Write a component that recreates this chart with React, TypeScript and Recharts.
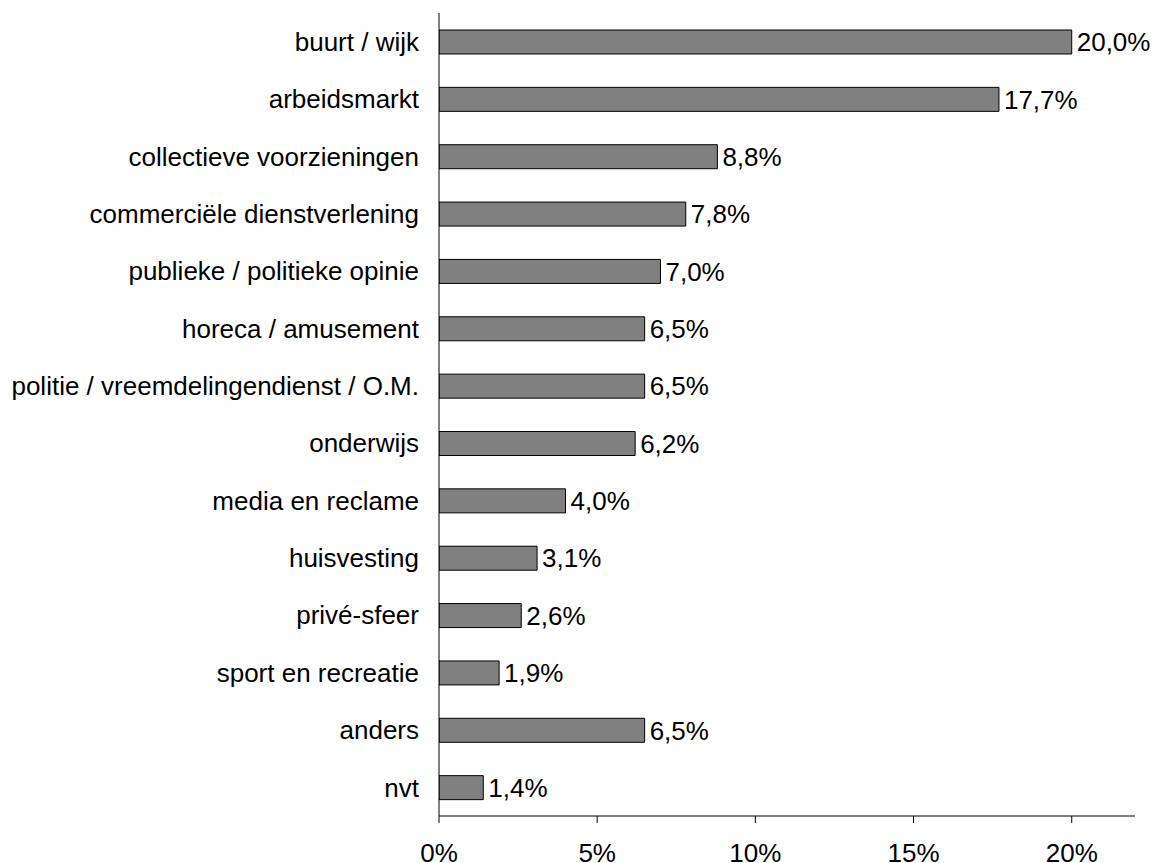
import React from 'react';
import { BarChart, Bar, XAxis, YAxis, LabelList } from 'recharts';

const categories = [
  'buurt / wijk',
  'arbeidsmarkt',
  'collectieve voorzieningen',
  'commerciële dienstverlening',
  'publieke / politieke opinie',
  'horeca / amusement',
  'politie / vreemdelingendienst / O.M.',
  'onderwijs',
  'media en reclame',
  'huisvesting',
  'privé-sfeer',
  'sport en recreatie',
  'anders',
  'nvt',
];
const percentages = [20.0, 17.7, 8.8, 7.8, 7.0, 6.5, 6.5, 6.2, 4.0, 3.1, 2.6, 1.9, 6.5, 1.4];
const xTicks = [0, 5, 10, 15, 20];

const FONT = '"Liberation Sans", Arial, sans-serif';

// komma als decimaalteken, zoals in het origineel
const fmt = (v: number) => v.toFixed(1).replace('.', ',') + '%';

const XTick = (props: any) => {
  const { x, y, payload } = props;
  return (
    <text x={x} y={y} dy={37} textAnchor="middle" fontSize={26} fontFamily={FONT} fill="#000">
      {payload.value}%
    </text>
  );
};

export default function App() {
  const data = categories.map((name, i) => ({ name, value: percentages[i] }));

  return (
    <div style={{ position: 'absolute', left: 0, top: 0, background: '#fff' }}>
      <BarChart
        width={1156}
        height={863}
        data={data}
        layout="vertical"
        margin={{ top: 13, right: 21, bottom: 0, left: 0 }}
        barSize={24}
      >
        <XAxis
          type="number"
          domain={[0, 22]}
          ticks={xTicks}
          height={47}
          stroke="#000"
          tickSize={7}
          tickMargin={2}
          tick={<XTick />}
          allowDataOverflow
        />
        <YAxis
          type="category"
          dataKey="name"
          width={439}
          stroke="#000"
          tickLine={false}
          tickMargin={14}
          interval={0}
          tick={{ fontSize: 26, fontFamily: FONT, fill: '#000' }}
        />
        <Bar dataKey="value" fill="#808080" stroke="#000" strokeWidth={1} isAnimationActive={false}>
          <LabelList
            dataKey="value"
            position="right"
            offset={5}
            formatter={(v: any) => fmt(Number(v))}
            style={{ fontSize: 26, fontFamily: FONT, fill: '#000' }}
          />
        </Bar>
      </BarChart>
    </div>
  );
}
